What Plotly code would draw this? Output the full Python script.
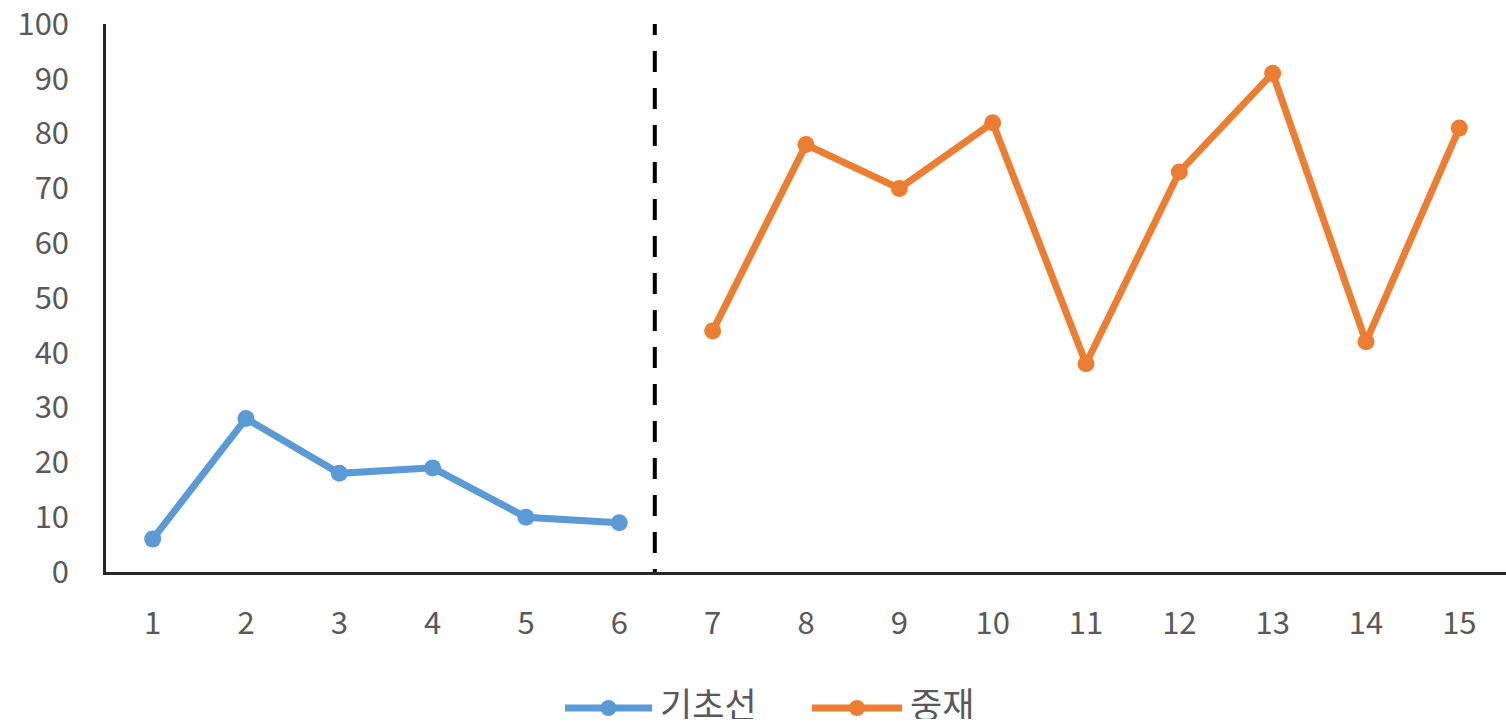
import plotly.graph_objects as go

# Session numbers and scores for each phase
baseline_sessions = [1, 2, 3, 4, 5, 6]
baseline_scores = [6, 28, 18, 19, 10, 9]
treatment_sessions = [7, 8, 9, 10, 11, 12, 13, 14, 15]
treatment_scores = [44, 78, 70, 82, 38, 73, 91, 42, 81]
x_ticks = list(range(1, 16))
y_ticks = list(range(0, 101, 10))

BLUE = "#5B9BD5"
ORANGE = "#ED7D31"
TEXT = "#595959"
FONT = "Noto Sans CJK KR, Open Sans, sans-serif"

W, H = 1506, 727
L, R, T, B = 106, 0, 24, 155
PW, PH = W - L - R, H - T - B


def px_x(px):
    return (px - L) / PW


def px_y(py):
    return (H - B - py) / PH


fig = go.Figure()
fig.add_trace(go.Scatter(
    x=baseline_sessions, y=baseline_scores, mode="lines+markers", name="기초선",
    line=dict(color=BLUE, width=7), marker=dict(color=BLUE, size=17),
    showlegend=False,
))
fig.add_trace(go.Scatter(
    x=treatment_sessions, y=treatment_scores, mode="lines+markers", name="중재",
    line=dict(color=ORANGE, width=7), marker=dict(color=ORANGE, size=17),
    showlegend=False,
))

shapes = [
    # phase change line between baseline and treatment
    dict(type="line", xref="x", yref="y", x0=6.38, x1=6.38, y0=-3.3, y1=100,
         line=dict(color="black", width=4, dash="21px,16px")),
]
annotations = []

# legend drawn beneath the plot
legend_items = [("기초선", BLUE, 565, 652), ("중재", ORANGE, 812, 902)]
ly = 708
for label, color, x0, x1 in legend_items:
    shapes.append(dict(type="line", xref="paper", yref="paper",
                       x0=px_x(x0), x1=px_x(x1), y0=px_y(ly), y1=px_y(ly),
                       line=dict(color=color, width=7)))
    cx = (x0 + x1) / 2
    r = 8
    shapes.append(dict(type="circle", xref="paper", yref="paper",
                       x0=px_x(cx - r), x1=px_x(cx + r), y0=px_y(ly + r), y1=px_y(ly - r),
                       fillcolor=color, line=dict(color=color, width=0)))
    annotations.append(dict(xref="paper", yref="paper", x=px_x(x1 + 6), y=px_y(702),
                            xanchor="left", yanchor="middle", showarrow=False,
                            text=label, height=34, valign="middle",
                            font=dict(family=FONT, size=35, color=TEXT)))

fig.update_layout(
    width=W, height=H,
    margin=dict(l=L, r=R, t=T, b=B, pad=0, autoexpand=False),
    paper_bgcolor="white", plot_bgcolor="white",
    font=dict(family=FONT, color=TEXT, size=31),
    shapes=shapes, annotations=annotations,
    xaxis=dict(range=[0.5, 15.5], tickmode="array", tickvals=x_ticks,
               ticktext=[str(v) for v in x_ticks], showgrid=False, zeroline=False,
               showline=True, linecolor="#262626", linewidth=2.5, ticks="",
               ticklabelstandoff=22, ticklabeloverflow="allow", automargin=False,
               tickfont=dict(size=31, color=TEXT)),
    yaxis=dict(range=[0, 100], tickmode="array", tickvals=y_ticks,
               showgrid=False, zeroline=False, showline=True, linecolor="#262626",
               linewidth=2.5, ticks="", ticklabelstandoff=28, ticklabeloverflow="allow",
               automargin=False, tickfont=dict(size=31, color=TEXT)),
)

fig.write_html("out.html")
